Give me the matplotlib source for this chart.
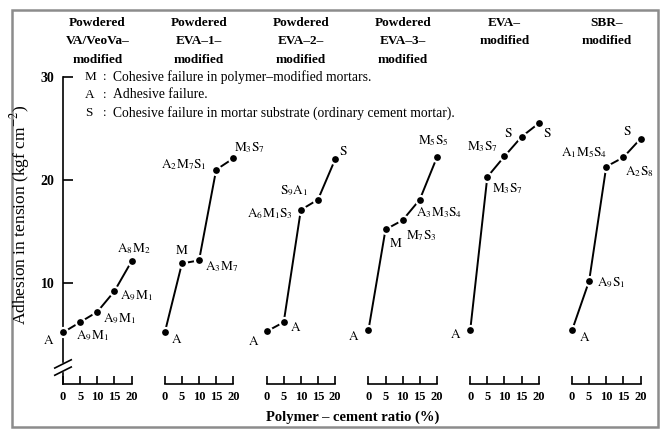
import matplotlib
matplotlib.use("Agg")
import matplotlib.pyplot as plt
from matplotlib.patches import Rectangle

plt.rcParams['font.family'] = ['Liberation Serif', 'DejaVu Serif']
plt.rcParams['mathtext.fontset'] = 'stix'

W, H = 661, 429

ratio = [0, 5, 10, 15, 20]
titles = ["Powdered\nVA/VeoVa\u2013\nmodified",
          "Powdered\nEVA\u20131\u2013\nmodified",
          "Powdered\nEVA\u20132\u2013\nmodified",
          "Powdered\nEVA\u20133\u2013\nmodified",
          "EVA\u2013\nmodified",
          "SBR\u2013\nmodified"]

va_veova = [5.2, 6.2, 7.2, 9.2, 12.1]
eva1_pw = [5.2, 11.9, 12.2, 21.0, 22.1]
eva2_pw = [5.3, 6.2, 17.1, 18.1, 22.0]
eva3_pw = [5.4, 15.2, 16.1, 18.1, 22.2]
eva = [5.4, 20.3, 22.3, 24.2, 25.5]
sbr = [5.4, 10.2, 21.3, 22.2, 24.0]
series = [va_veova, eva1_pw, eva2_pw, eva3_pw, eva, sbr]

lab_va_veova = ["A", "A_9M_1", "A_9M_1", "A_9M_1", "A_8M_2"]
lab_eva1_pw = ["A", "M", "A_3M_7", "A_2M_7S_1", "M_3S_7"]
lab_eva2_pw = ["A", "A", "A_6M_1S_3", "S_9A_1", "S"]
lab_eva3_pw = ["A", "M", "M_7S_3", "A_3M_3S_4", "M_5S_5"]
lab_eva = ["A", "M_3S_7", "M_3S_7", "S", "S"]
lab_sbr = ["A", "A_9S_1", "A_1M_5S_4", "A_2S_8", "S"]
labels = [lab_va_veova, lab_eva1_pw, lab_eva2_pw, lab_eva3_pw, lab_eva, lab_sbr]

# label offsets in pixels (dx, dy up), alignment
offs = [
    [(-9, -8, 'right'), (12, -14, 'center'), (6, -7, 'left'), (6, -5, 'left'), (2, 13, 'center')],
    [(6, -7, 'left'), (0, 13, 'center'), (6, -6, 'left'), (-10, 5, 'right'), (1, 11, 'left')],
    [(-7, -10, 'right'), (6, -5, 'left'), (-8, -4, 'right'), (-10, 9, 'right'), (4, 8, 'left')],
    [(-9, -6, 'right'), (3, -14, 'left'), (3, -15, 'left'), (-4, -13, 'left'), (-4, 17, 'center')],
    [(-9, -4, 'right'), (5, -12, 'left'), (-7, 10, 'right'), (-9, 3, 'right'), (4, -10, 'left')],
    [(7, -7, 'left'), (8, -2, 'left'), (1, 14, 'right'), (2, -14, 'left'), (-9, 7, 'right')],
]

legend_keys = ["M", "A", "S"]
legend_text = ["Cohesive failure in polymer\u2013modified mortars.",
               "Adhesive failure.",
               "Cohesive failure in mortar substrate (ordinary cement mortar)."]


def fx(x):
    return x / W


def fy(y):
    return 1 - y / H


fig = plt.figure(figsize=(W / 100, H / 100), dpi=100)

y_bot, y_top = 0.2, 30
ax_top_px, ax_bot_px = 77, 384
x0_px, step_px, width_px = 63, 101.8, 68.5

for i in range(6):
    left = x0_px + step_px * i
    ax = fig.add_axes([fx(left), fy(ax_bot_px), width_px / W, (ax_bot_px - ax_top_px) / H])
    ax.patch.set_visible(False)
    ax.set_xlim(0, 20)
    ax.set_ylim(y_bot, y_top)
    for s in ['top', 'right']:
        ax.spines[s].set_visible(False)
    ax.spines['bottom'].set_linewidth(1.2)
    ax.set_xticks(ratio)
    ax.set_xticklabels([str(r) for r in ratio])
    ax.tick_params(axis='x', direction='in', length=6, width=1.2, pad=5, labelsize=9)
    for t in ax.get_xticklabels():
        t.set_fontweight('bold')
    if i == 0:
        ax.spines['left'].set_linewidth(1.2)
        ax.spines['left'].set_bounds(2.3, y_top)
        ax.plot([0, 0], [y_bot, 1.3], color='black', lw=1.2, clip_on=False)
        for yb in [1.45, 2.15]:
            ax.plot([-2.4, 2.4], [yb - 0.4, yb + 0.4], color='black', lw=1.2, clip_on=False)
        ax.set_yticks([10, 20, 30])
        ax.tick_params(axis='y', direction='in', length=7.5, width=1.2, pad=6, labelsize=10)
        for t in ax.get_yticklabels():
            t.set_fontweight('bold')
    else:
        ax.spines['left'].set_visible(False)
        ax.set_yticks([])

    ax.plot(ratio, series[i], color='black', lw=1.4, marker='o', markersize=6.5,
            markerfacecolor='black', markeredgecolor='white', markeredgewidth=1.6,
            clip_on=False, zorder=3)
    for xv, yv, lab, (dx, dy, ha) in zip(ratio, series[i], labels[i], offs[i]):
        ax.annotate(r'$\mathrm{' + lab + '}$', (xv, yv), xytext=(dx, dy),
                    textcoords='offset pixels', ha=ha, va='center', fontsize=9.5,
                    annotation_clip=False)

    fig.text(fx(left + width_px / 2), fy(17), titles[i], ha='center', va='top',
             fontsize=9.5, fontweight='bold', linespacing=1.7)

for k, (key, txt) in enumerate(zip(legend_keys, legend_text)):
    yy = 77 + 18 * k
    fig.text(fx(85), fy(yy), key, ha='left', va='center', fontsize=9.5)
    fig.text(fx(103), fy(yy), ":", ha='left', va='center', fontsize=9.5)
    fig.text(fx(113), fy(yy), txt, ha='left', va='center', fontsize=9.8)

fig.text(fx(20), fy(215), "Adhesion in tension (kgf cm$^{-2}$)", rotation=90,
         ha='center', va='center', fontsize=12.5)
fig.text(fx(353), fy(417), "Polymer \u2013 cement ratio (%)", ha='center', va='center',
         fontsize=10.5, fontweight='bold')

fig.patches.append(Rectangle((fx(12), fy(427)), fx(646), 417 / H, transform=fig.transFigure,
                             fill=False, edgecolor='#8c8c8c', lw=1.8))

fig.savefig("out.png", dpi=100)
